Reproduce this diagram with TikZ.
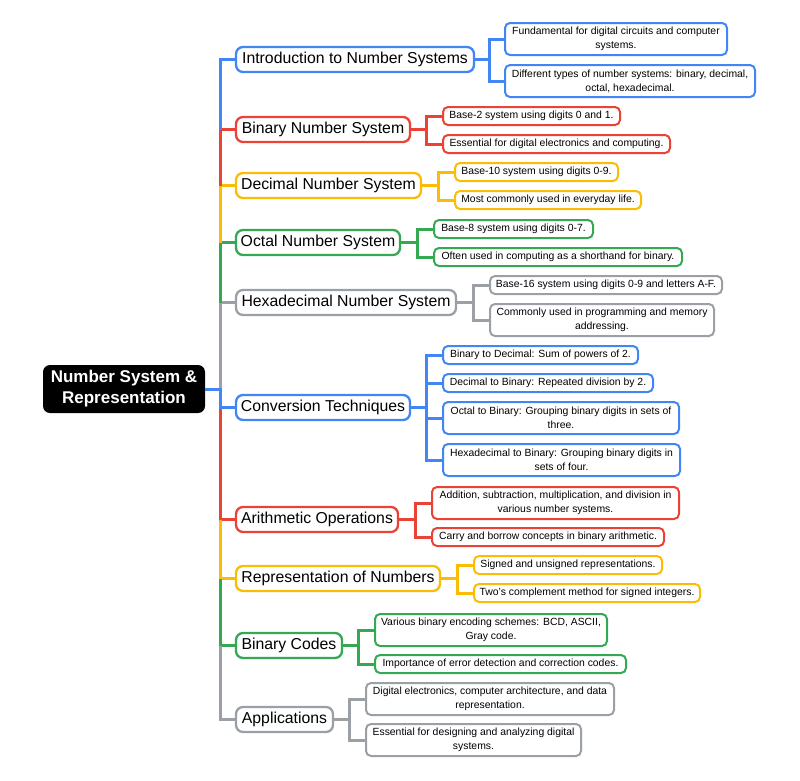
\documentclass[tikz,border=0pt]{standalone}
\usepackage{fontspec}
\setmainfont{Liberation Sans}
\usetikzlibrary{calc}
\definecolor{cblue}{HTML}{4285F4}
\definecolor{cred}{HTML}{EA4335}
\definecolor{cyellow}{HTML}{FBBC05}
\definecolor{cgreen}{HTML}{34A853}
\definecolor{cgray}{HTML}{9AA0A6}
\tikzset{
  rootbox/.style={fill=black, text=white, rounded corners=7pt, inner sep=0pt, align=center,
    font=\bfseries\fontsize{17}{21}\selectfont},
  mainbox/.style={draw=#1, fill=white, line width=2.3pt, rounded corners=7pt, inner sep=0pt,
    minimum height=25pt, font=\fontsize{15.8}{19}\selectfont},
  leafbox/.style={draw=#1, fill=white, line width=2pt, rounded corners=5pt, inner sep=0pt,
    align=center, font=\fontsize{10.4}{14}\selectfont},
  link/.style={draw=#1, line width=3pt},
}
\newcommand{\bx}[7]{% name, style, color, x1, y1, x2, y2 ; text follows
  \node[#2=#3, minimum width={#6-#4}, minimum height={#7-#5}] (#1) at ({(#4+#6)/2},{(#5+#7)/2})}
\begin{document}
\begin{tikzpicture}[x=1pt,y=-1pt]
\useasboundingbox (0,0) rectangle (800,780);
% root
\node[rootbox, minimum width=162pt, minimum height=48pt] (root) at (124,389) {Number System \&\\Representation};
% main nodes
\bx{c1}{mainbox}{cblue}{236}{47}{474}{72} {Introduction to Number Systems};
\bx{c2}{mainbox}{cred}{236}{117}{410}{142} {Binary Number System};
\bx{c3}{mainbox}{cyellow}{236}{173}{421}{198} {Decimal Number System};
\bx{c4}{mainbox}{cgreen}{236}{230}{400}{255} {Octal Number System};
\bx{c5}{mainbox}{cgray}{236}{290}{456}{315} {Hexadecimal Number System};
\bx{c6}{mainbox}{cblue}{236}{395}{410}{420} {Conversion Techniques};
\bx{c7}{mainbox}{cred}{236}{507}{398}{532} {Arithmetic Operations};
\bx{c8}{mainbox}{cyellow}{236}{566}{440}{591} {Representation of Numbers};
\bx{c9}{mainbox}{cgreen}{236}{633}{342}{658} {Binary Codes};
\bx{c10}{mainbox}{cgray}{236}{707}{333}{732} {Applications};
% leaves
\bx{l11}{leafbox}{cblue}{505}{23}{727}{55} {Fundamental for digital circuits and computer\\systems.};
\bx{l12}{leafbox}{cblue}{505}{65}{755}{97} {Different types of number systems: binary, decimal,\\octal, hexadecimal.};
\bx{l21}{leafbox}{cred}{443}{107}{620}{125} {Base-2 system using digits 0 and 1.};
\bx{l22}{leafbox}{cred}{443}{135}{670}{153} {Essential for digital electronics and computing.};
\bx{l31}{leafbox}{cyellow}{455}{163}{618}{181} {Base-10 system using digits 0-9.};
\bx{l32}{leafbox}{cyellow}{455}{191}{641}{209} {Most commonly used in everyday life.};
\bx{l41}{leafbox}{cgreen}{434}{220}{593}{238} {Base-8 system using digits 0-7.};
\bx{l42}{leafbox}{cgreen}{434}{248}{682}{266} {Often used in computing as a shorthand for binary.};
\bx{l51}{leafbox}{cgray}{490}{276}{722}{294} {Base-16 system using digits 0-9 and letters A-F.};
\bx{l52}{leafbox}{cgray}{490}{304}{714}{336} {Commonly used in programming and memory\\addressing.};
\bx{l61}{leafbox}{cblue}{443}{346}{638}{364} {Binary to Decimal: Sum of powers of 2.};
\bx{l62}{leafbox}{cblue}{443}{374}{653}{392} {Decimal to Binary: Repeated division by 2.};
\bx{l63}{leafbox}{cblue}{443}{402}{679}{434} {Octal to Binary: Grouping binary digits in sets of\\three.};
\bx{l64}{leafbox}{cblue}{443}{444}{680}{476} {Hexadecimal to Binary: Grouping binary digits in\\sets of four.};
\bx{l71}{leafbox}{cred}{432}{487}{679}{519} {Addition, subtraction, multiplication, and division in\\various number systems.};
\bx{l72}{leafbox}{cred}{432}{528}{664}{546} {Carry and borrow concepts in binary arithmetic.};
\bx{l81}{leafbox}{cyellow}{474}{556}{662}{574} {Signed and unsigned representations.};
\bx{l82}{leafbox}{cyellow}{474}{584}{700}{602} {Two's complement method for signed integers.};
\bx{l91}{leafbox}{cgreen}{375}{614}{607}{646} {Various binary encoding schemes: BCD, ASCII,\\Gray code.};
\bx{l92}{leafbox}{cgreen}{375}{655}{626}{673} {Importance of error detection and correction codes.};
\bx{l101}{leafbox}{cgray}{366}{683}{614}{715} {Digital electronics, computer architecture, and data\\representation.};
\bx{l102}{leafbox}{cgray}{366}{724}{581}{756} {Essential for designing and analyzing digital\\systems.};
% trunk
\coordinate (T) at (220,389);
\draw[link=cgray] (T) |- (c5.west);
\draw[link=cgreen] (T |- c5.west) |- (c4.west);
\draw[link=cyellow] (T |- c4.west) |- (c3.west);
\draw[link=cred] (T |- c3.west) |- (c2.west);
\draw[link=cblue] (T |- c2.west) |- (c1.west);
\draw[link=cred] (T |- c6.west) |- (c7.west);
\draw[link=cyellow] (T |- c7.west) |- (c8.west);
\draw[link=cgreen] (T |- c8.west) |- (c9.west);
\draw[link=cgray] (T |- c9.west) |- (c10.west);
\draw[link=cblue] (root.east) -- (T) |- (c6.west);
% branches
\foreach \c/\col/\ls in {c1/cblue/{l11,l12}, c2/cred/{l21,l22}, c3/cyellow/{l31,l32},
  c4/cgreen/{l41,l42}, c5/cgray/{l51,l52}, c6/cblue/{l61,l62,l63,l64},
  c7/cred/{l71,l72}, c8/cyellow/{l81,l82}, c9/cgreen/{l91,l92}, c10/cgray/{l101,l102}}{
  \foreach \l in \ls {
    \draw[link=\col] (\c.east) -- ($(\c.east)!0.5!(\c.east -| \l.west)$) |- (\l.west);
  }
}
\end{tikzpicture}
\end{document}
